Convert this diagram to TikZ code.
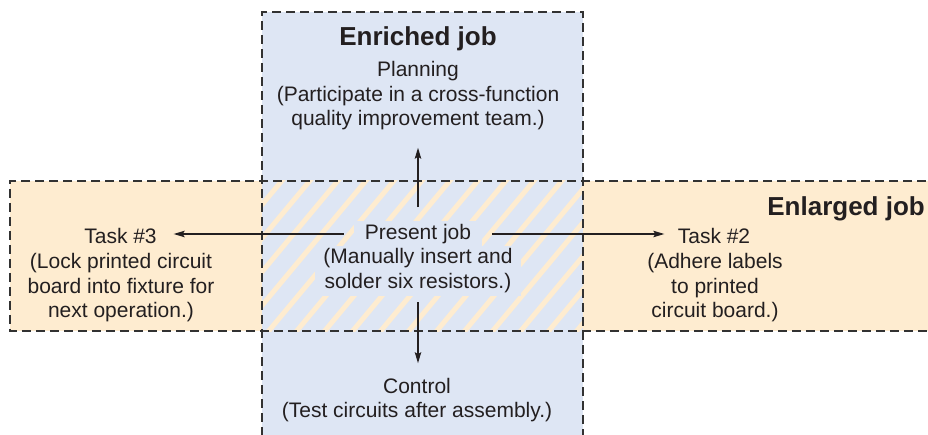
\documentclass[tikz,border=0pt]{standalone}
\usepackage{fontspec}
\setmainfont{Liberation Sans}
\usetikzlibrary{arrows.meta,calc}
\definecolor{enrblue}{RGB}{222,230,244}
\definecolor{enlorange}{RGB}{254,236,208}
\definecolor{dashgray}{RGB}{50,50,50}
\definecolor{inkc}{RGB}{35,31,32}
\begin{document}
\begin{tikzpicture}[x=1pt,y=-1pt,
 txt/.style={inner sep=0pt, align=center, text=inkc, font=\fontsize{21}{24.5}\selectfont},
 ttl/.style={inner sep=0pt, text=inkc, font=\bfseries\fontsize{26}{30}\selectfont},
 bord/.style={draw=dashgray, line width=1.2pt, dash pattern=on 9pt off 5pt},
 arr/.style={draw=inkc, line width=1.1pt, -{Stealth[length=11pt,width=6.5pt,inset=2pt]}},
 stripe/.style={draw=enlorange, line width=5pt},
]
\useasboundingbox (0,0) rectangle (928,435);
\clip (0,0) rectangle (928,435);
% regions
\fill[enlorange] (10,181) rectangle (940,331);
\fill[enrblue] (262,12) rectangle (583,450);
\begin{scope}
  \clip (262,181) rectangle (583,331);
  \foreach \k in {-6,...,13} {
    \draw[stripe] ({268.7+28*\k-16.7},351) -- ++(166.7,-200);
  }
\end{scope}
% dashed borders
\draw[bord] (940,181) -- (10,181) -- (10,331) -- (940,331);
\draw[bord] (262,450) -- (262,12) -- (583,12) -- (583,450);
% texts
\node[ttl] (enr) at (418,38.5) {Enriched job};
\node[txt, outer ysep=17.5pt] (plan) at (418,96) {Planning\\(Participate in a cross-function\\quality improvement team.)};
\node[txt, fill=enrblue, inner xsep=11pt, inner ysep=3pt, outer xsep=10pt, outer ysep=14pt] (pjt) at (418,234) {Present job};
\node[txt, fill=enrblue, inner xsep=8pt, inner ysep=3pt, outer ysep=6.4pt] (pjd) at (418,270.7) {(Manually insert and\\solder six resistors.)};
\node[txt, outer ysep=15pt] (ctl) at (417,400.2) {Control\\(Test circuits after assembly.)};
\node[txt, outer xsep=17pt] (t3) at (120.5,236) {Task \#3};
\node[txt] (t3d) at (121,287.7) {(Lock printed circuit\\board into fixture for\\next operation.)};
\node[txt, outer xsep=13.5pt] (t2) at (714,236) {Task \#2};
\node[txt] (t2d) at (715,287.7) {(Adhere labels\\to printed\\circuit board.)};
\node[ttl, anchor=east] (enl) at (925,208.6) {Enlarged job};
% arrows
\draw[arr] (pjt.north) -- (plan.south);
\draw[arr] (pjd.south) -- (pjd.south |- ctl.north);
\draw[arr] (pjt.west) -- (pjt.west -| t3.east);
\draw[arr] (pjt.east) -- (pjt.east -| t2.west);
\end{tikzpicture}
\end{document}
